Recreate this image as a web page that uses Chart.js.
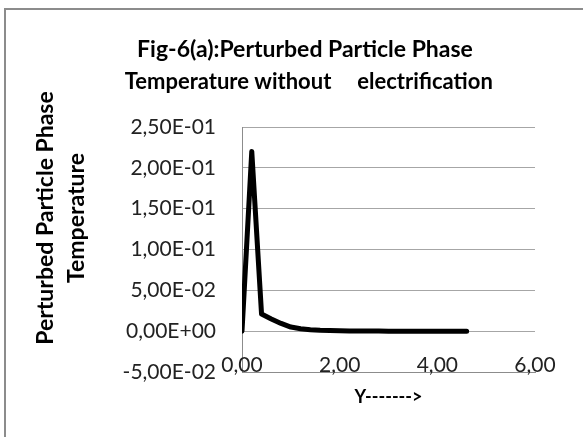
<!DOCTYPE html>
<html>
<head>
<meta charset="utf-8">
<script src="https://cdn.jsdelivr.net/npm/chart.js@4"></script>
<style>
  html, body { margin: 0; padding: 0; background: #fff; }
  #wrap { position: relative; width: 583px; height: 437px; }
</style>
</head>
<body>
<div id="wrap"><canvas id="chart" width="583" height="437"></canvas></div>
<script>
const yPos = [0, 0.2, 0.4, 0.6, 0.8, 1.0, 1.2, 1.4, 1.6, 1.8, 2.0, 2.2, 2.4, 2.6, 2.8, 3.0, 3.2, 3.4, 3.6, 3.8, 4.0, 4.2, 4.4, 4.6];
const temperature = [0, 0.22, 0.021, 0.015, 0.0095, 0.005, 0.003, 0.0018, 0.0011, 0.0007, 0.0004, 0.00025, 0.00015, 0.0001, 0.00006, 0.00004, 0.00002, 0.00001, 0.00001, 0, 0, 0, 0, 0];

const titleLine1 = 'Fig-6(a):Perturbed Particle Phase';
const titleLine2 = ['Temperature without', 'electrification'];
const yTitleLines = ['Perturbed Particle Phase', 'Temperature'];
const xTitle = 'Y------->';

const FONT = 'Lato, "Open Sans", sans-serif';

function sci(v) {
  if (Math.abs(v) < 1e-12) return '0,00E+00';
  const [m, e] = v.toExponential(2).split('e');
  const n = parseInt(e, 10);
  return m.replace('.', ',') + 'E' + (n < 0 ? '-' : '+') + String(Math.abs(n)).padStart(2, '0');
}

const textPlugin = {
  id: 'texts',
  beforeDraw(chart) {
    const ctx = chart.ctx;
    ctx.save();
    ctx.fillStyle = '#fff';
    ctx.fillRect(0, 0, chart.width, chart.height);
    // outer frame
    ctx.strokeStyle = '#8c8c8c';
    ctx.lineWidth = 2;
    ctx.beginPath();
    ctx.moveTo(5, 437);
    ctx.lineTo(5, 9);
    ctx.lineTo(583, 9);
    ctx.stroke();
    ctx.restore();
  },
  afterDraw(chart) {
    const ctx = chart.ctx;
    const xs = chart.scales.x;
    ctx.save();
    // x tick labels sit on the axis line, as in the original
    ctx.fillStyle = '#222';
    ctx.font = '21px ' + FONT;
    ctx.textAlign = 'center';
    ctx.textBaseline = 'alphabetic';
    xs.ticks.forEach(t => {
      ctx.fillText(t.value.toFixed(2).replace('.', ','), xs.getPixelForValue(t.value), 372);
    });

    ctx.fillStyle = '#000';
    ctx.font = 'bold 23px ' + FONT;
    ctx.fillText(titleLine1, 305, 57);
    ctx.font = 'bold 22px ' + FONT;
    ctx.fillText(titleLine2[0], 228, 89);
    ctx.fillText(titleLine2[1], 425, 89);

    ctx.font = 'bold 23px ' + FONT;
    ctx.translate(0, 218);
    ctx.rotate(-Math.PI / 2);
    ctx.fillText(yTitleLines[0], 0, 53);
    ctx.fillText(yTitleLines[1], 0, 84);
    ctx.restore();
  }
};

new Chart(document.getElementById('chart'), {
  type: 'scatter',
  data: {
    datasets: [{
      data: yPos.map((x, i) => ({ x: x, y: temperature[i] })),
      showLine: true,
      borderColor: '#000',
      borderWidth: 5,
      borderJoinStyle: 'round',
      borderCapStyle: 'round',
      pointRadius: 0,
      tension: 0
    }]
  },
  options: {
    responsive: false,
    animation: false,
    layout: { padding: { left: 0, top: 127, right: 48, bottom: 0 } },
    plugins: { legend: { display: false }, title: { display: false }, tooltip: { enabled: false } },
    scales: {
      x: {
        type: 'linear',
        min: 0, max: 6,
        afterFit: s => { s.height = 65; },
        grid: { display: false, drawTicks: false },
        border: { color: '#8c8c8c', width: 1 },
        ticks: { stepSize: 2, display: false },
        title: {
          display: true,
          text: xTitle,
          color: '#000',
          font: { family: FONT, size: 18, weight: 'bold' },
          padding: { top: 0, bottom: 29 }
        }
      },
      y: {
        min: -0.05, max: 0.25,
        afterFit: s => { s.width = 242; },
        grid: { color: '#a6a6a6', lineWidth: 1, drawTicks: false },
        border: { color: '#8c8c8c', width: 1 },
        ticks: {
          stepSize: 0.05,
          padding: 26,
          color: '#222',
          font: { family: FONT, size: 21 },
          callback: v => sci(v)
        }
      }
    }
  },
  plugins: [textPlugin]
});
</script>
</body>
</html>
